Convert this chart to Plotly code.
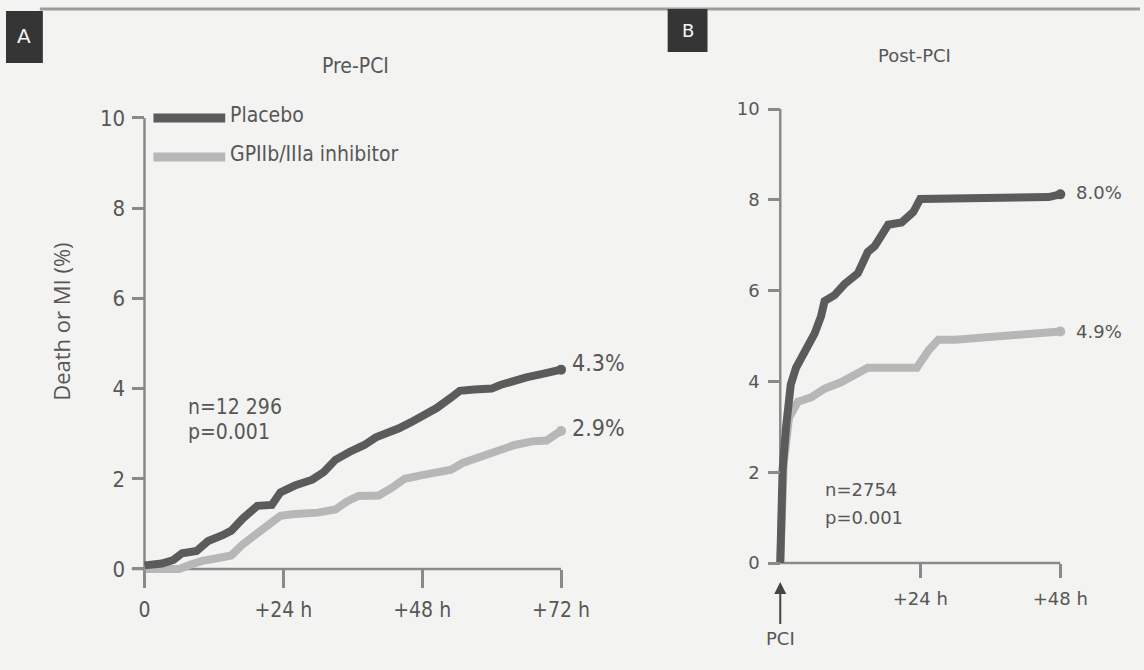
import plotly.graph_objects as go

W, H = 1144, 670

# ---------------- data ----------------
a_placebo_t = [0, 3, 5, 6.5, 9, 11, 13.5, 15, 17, 19.5, 22, 23.5, 26, 29, 31, 33, 35.5, 38, 40, 42, 44, 46, 48,
               50.5, 53, 54.5, 57, 60, 61.5, 64, 66, 69, 72]
a_placebo_y = [0.08, 0.12, 0.2, 0.35, 0.4, 0.62, 0.75, 0.85, 1.12, 1.4, 1.42, 1.7, 1.85, 1.98, 2.15, 2.42, 2.6,
               2.75, 2.92, 3.0, 3.12, 3.25, 3.38, 3.57, 3.8, 3.95, 3.98, 4.0, 4.08, 4.18, 4.25, 4.33, 4.42]
a_gp_t = [0, 6, 8, 10, 13, 15, 17, 19, 21.5, 23.5, 26, 30, 33, 35, 37, 40.5, 42.5, 45, 48, 51, 53, 55, 58, 61,
          64, 67, 69.5, 71, 72]
a_gp_y = [0, 0, 0.1, 0.18, 0.25, 0.3, 0.55, 0.75, 1.0, 1.18, 1.22, 1.25, 1.32, 1.5, 1.62, 1.63, 1.78, 2.0, 2.08,
          2.15, 2.2, 2.35, 2.48, 2.62, 2.75, 2.83, 2.85, 2.98, 3.06]

b_placebo_t = [0, 0.4, 1.0, 1.8, 2.7, 4.1, 5.9, 7.0, 7.6, 9.3, 11, 13.3, 15, 16.2, 18.5, 20.8, 22.8, 24, 30, 36,
               42, 46, 48]
b_placebo_y = [0, 2.05, 3.0, 3.93, 4.3, 4.6, 5.06, 5.44, 5.77, 5.9, 6.14, 6.38, 6.85, 6.98, 7.45, 7.5, 7.73,
               8.02, 8.02, 8.03, 8.04, 8.06, 8.12]
b_gp_t = [0, 0.6, 1.5, 3, 5.3, 7.6, 10.4, 12.7, 15, 18.5, 23.4, 25.4, 27.1, 30, 35.7, 41.5, 48]
b_gp_y = [0, 2.2, 3.2, 3.55, 3.65, 3.84, 3.98, 4.12, 4.3, 4.3, 4.3, 4.68, 4.92, 4.92, 4.97, 5.06, 5.1]

y_ticks = [0, 2, 4, 6, 8, 10]
a_x_ticks = [0, 24, 48, 72]
a_x_labels = ["0", "+24 h", "+48 h", "+72 h"]
b_x_ticks = [24, 48]
b_x_labels = ["+24 h", "+48 h"]

series_names = ["Placebo", "GPIIb/IIIa inhibitor"]
a_end_labels = ["4.3%", "2.9%"]
b_end_labels = ["8.0%", "4.9%"]

# ---------------- styling ----------------
BG = "#f3f3f1"
DARK = "#5b5b5b"
LIGHT = "#b7b7b7"
AXC = "#8a8a8a"
TXT = "#575757"
NARROW = "Liberation Sans Narrow, Arial Narrow, DejaVu Sans Condensed, sans-serif"
WIDE = "DejaVu Sans, Verdana, sans-serif"

# pixel anchors for the two panels (value -> pixel)
A_X0, A_PXH = 145.0, (563.0 - 145.0) / 72.0
A_Y0, A_PYU = 569.0, (569.0 - 118.0) / 10.0
B_X0, B_PXH = 783.0, (1064.0 - 783.0) / 48.0
B_Y0, B_PYU = 563.0, (563.0 - 109.0) / 10.0

A_XR = [-3.5, 82]
B_XR = [-3.5, 52]
YR = [-0.45, 10.45]


def xdom(x0, pxh, xr):
    return [(x0 + xr[0] * pxh) / W, (x0 + xr[1] * pxh) / W]


def ydom(y0, pyu, yr):
    return [1 - (y0 - yr[0] * pyu) / H, 1 - (y0 - yr[1] * pyu) / H]


fig = go.Figure()

# panel A traces
fig.add_trace(go.Scatter(x=a_gp_t, y=a_gp_y, mode="lines", line=dict(color=LIGHT, width=8),
                         name=series_names[1], xaxis="x", yaxis="y", hoverinfo="skip"))
fig.add_trace(go.Scatter(x=a_placebo_t, y=a_placebo_y, mode="lines", line=dict(color=DARK, width=8),
                         name=series_names[0], xaxis="x", yaxis="y", hoverinfo="skip"))
fig.add_trace(go.Scatter(x=[a_placebo_t[-1], a_gp_t[-1]], y=[a_placebo_y[-1], a_gp_y[-1]], mode="markers",
                         marker=dict(color=[DARK, LIGHT], size=10), xaxis="x", yaxis="y", hoverinfo="skip"))
# panel B traces
fig.add_trace(go.Scatter(x=b_gp_t, y=b_gp_y, mode="lines", line=dict(color=LIGHT, width=8),
                         name=series_names[1], xaxis="x2", yaxis="y2", hoverinfo="skip"))
fig.add_trace(go.Scatter(x=b_placebo_t, y=b_placebo_y, mode="lines", line=dict(color=DARK, width=8),
                         name=series_names[0], xaxis="x2", yaxis="y2", hoverinfo="skip"))
fig.add_trace(go.Scatter(x=[b_placebo_t[-1], b_gp_t[-1]], y=[b_placebo_y[-1], b_gp_y[-1]], mode="markers",
                         marker=dict(color=[DARK, LIGHT], size=10), xaxis="x2", yaxis="y2", hoverinfo="skip"))

axis_common = dict(showgrid=False, zeroline=False, showline=False, ticks="outside",
                   tickcolor=AXC, tickwidth=2.5, anchor="free", fixedrange=True)

fig.update_layout(
    width=W, height=H, margin=dict(l=0, r=0, t=0, b=0),
    paper_bgcolor=BG, plot_bgcolor="rgba(0,0,0,0)", showlegend=False,
    xaxis=dict(**axis_common, domain=xdom(A_X0, A_PXH, A_XR), range=A_XR, position=1 - A_Y0 / H,
               tickvals=a_x_ticks, ticktext=a_x_labels, ticklen=18, ticklabelstandoff=4,
               tickfont=dict(family=NARROW, size=21, color=TXT)),
    yaxis=dict(**axis_common, domain=ydom(A_Y0, A_PYU, YR), range=YR, position=A_X0 / W,
               tickvals=y_ticks, ticklen=12, ticklabelstandoff=3,
               tickfont=dict(family=NARROW, size=22, color=TXT)),
    xaxis2=dict(**axis_common, domain=xdom(B_X0, B_PXH, B_XR), range=B_XR, position=1 - B_Y0 / H,
                tickvals=b_x_ticks, ticktext=b_x_labels, ticklen=14, ticklabelstandoff=5,
                tickfont=dict(family=WIDE, size=18, color=TXT)),
    yaxis2=dict(**axis_common, domain=ydom(B_Y0, B_PYU, YR), range=YR, position=B_X0 / W,
                tickvals=y_ticks, ticklen=12, ticklabelstandoff=5,
                tickfont=dict(family=WIDE, size=18, color=TXT)),
)

shapes = []
# axis lines (data coordinates), drawn beneath the curves
shapes.append(dict(type="line", xref="x", yref="y", x0=0, x1=0, y0=0, y1=10, line=dict(color=AXC, width=2.5), layer="below"))
shapes.append(dict(type="line", xref="x", yref="y", x0=-2.2, x1=72, y0=0, y1=0, line=dict(color=AXC, width=2.5), layer="below"))
shapes.append(dict(type="line", xref="x2", yref="y2", x0=0, x1=0, y0=0, y1=10, line=dict(color=AXC, width=2.5), layer="below"))
shapes.append(dict(type="line", xref="x2", yref="y2", x0=0, x1=48, y0=0, y1=0, line=dict(color=AXC, width=2.5), layer="below"))
# top rule
shapes.append(dict(type="line", xref="paper", yref="paper", x0=40 / W, x1=1, y0=1 - 9 / H, y1=1 - 9 / H,
                   line=dict(color="#9c9c9c", width=3)))
# panel letter boxes
shapes.append(dict(type="rect", xref="paper", yref="paper", x0=6 / W, x1=43 / W, y0=1 - 63 / H, y1=1 - 11 / H,
                   fillcolor="#353535", line=dict(width=0)))
shapes.append(dict(type="rect", xref="paper", yref="paper", x0=670 / W, x1=710 / W, y0=1 - 52 / H, y1=1 - 9 / H,
                   fillcolor="#353535", line=dict(width=0)))
# manual legend swatches
shapes.append(dict(type="line", xref="paper", yref="paper", x0=154 / W, x1=226 / W, y0=1 - 118 / H, y1=1 - 118 / H,
                   line=dict(color=DARK, width=9)))
shapes.append(dict(type="line", xref="paper", yref="paper", x0=154 / W, x1=226 / W, y0=1 - 157 / H, y1=1 - 157 / H,
                   line=dict(color=LIGHT, width=9)))

annotations = []


def txt(text, x, y, xref, yref, font, xanchor="left", yanchor="middle", **kw):
    annotations.append(dict(text=text, x=x, y=y, xref=xref, yref=yref, showarrow=False,
                            xanchor=xanchor, yanchor=yanchor, font=font, **kw))


fA2 = dict(family=NARROW, size=21, color=TXT)
fB = dict(family=WIDE, size=18, color=TXT)

txt("A", 24.5 / W, 1 - 36 / H, "paper", "paper", dict(family="DejaVu Sans", size=20, color="#f5f5f5"), xanchor="center")
txt("B", 690 / W, 1 - 30 / H, "paper", "paper", dict(family="DejaVu Sans", size=18, color="#f5f5f5"), xanchor="center")
txt("Pre-PCI", 357 / W, 1 - 66 / H, "paper", "paper", fA2, xanchor="center")
txt("Post-PCI", 918 / W, 1 - 56 / H, "paper", "paper", fB, xanchor="center")
txt("Death or MI (%)", 61 / W, 1 - 322 / H, "paper", "paper", dict(family="Open Sans, sans-serif", size=22, color=TXT),
    xanchor="center", textangle=-90)
txt(series_names[0], 229 / W, 1 - 115 / H, "paper", "paper", fA2)
txt(series_names[1], 229 / W, 1 - 154 / H, "paper", "paper", fA2)

txt("n=12 296", 7.2, 3.59, "x", "y", fA2)
txt("p=0.001", 7.2, 3.04, "x", "y", fA2)
txt(a_end_labels[0], 73.6, 4.57, "x", "y", dict(family=NARROW, size=23, color=TXT))
txt(a_end_labels[1], 73.6, 3.13, "x", "y", dict(family=NARROW, size=23, color=TXT))

txt("n=2754", 7.3, 1.61, "x2", "y2", fB)
txt("p=0.001", 7.3, 1.01, "x2", "y2", fB)
txt(b_end_labels[0], 50.4, 8.15, "x2", "y2", fB)
txt(b_end_labels[1], 50.4, 5.09, "x2", "y2", fB)

# PCI arrow
annotations.append(dict(text="PCI", x=0, y=-0.42, xref="x2", yref="y2", showarrow=True, arrowhead=2,
                        arrowsize=1.2, arrowwidth=2, arrowcolor="#444", ax=0, ay=56, font=fB,
                        standoff=0, startstandoff=2))

fig.update_layout(shapes=shapes, annotations=annotations)
fig.write_html("out.html")
